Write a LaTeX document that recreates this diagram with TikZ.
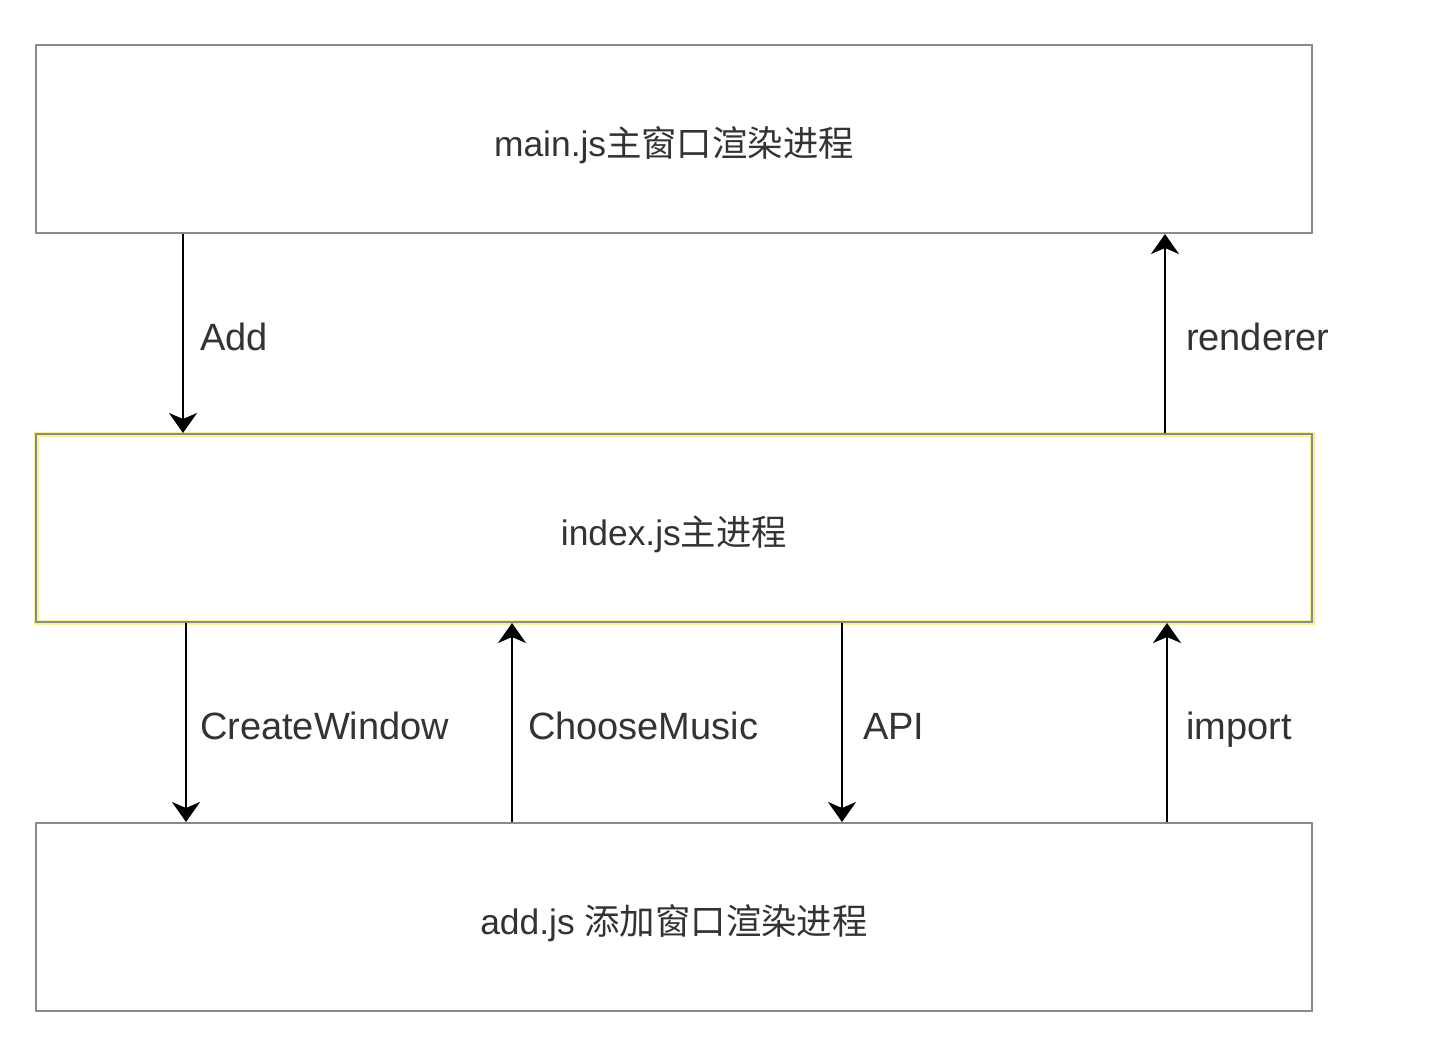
\documentclass[tikz,border=0pt]{standalone}
\usepackage{fontspec}
\setmainfont{Liberation Sans}
\newfontfamily\cjk{Noto Sans CJK SC}
\usetikzlibrary{positioning, arrows.meta}

\definecolor{boxline}{HTML}{8A8A8A}
\definecolor{txt}{HTML}{333333}
\definecolor{glow}{HTML}{F7F39A}

\begin{document}
\begin{tikzpicture}[x=0.5pt, y=-0.5pt, node distance=99.5pt, thick,
    proc/.style={draw=boxline, line width=1pt, rectangle, minimum width=638pt, minimum height=94pt,
      text=txt, font=\fontsize{17.7}{19}\selectfont, inner sep=0pt, text height=20pt, text depth=3pt},
    link/.style={-{Stealth[length=10pt, width=14pt, inset=3pt]}, line width=1pt},
    tag/.style={right, text=txt, font=\fontsize{19}{21}\selectfont, inner sep=0pt,
      text height=21pt, text depth=4pt}]
    \useasboundingbox (0,0) rectangle (1456,1060);

    \node[proc] (mainwin) at (674,139) {main.js{\cjk 主窗口渲染进程}};
    \node[proc, below=of mainwin, preaction={draw=glow, line width=2.5pt}] (indexjs) {index.js{\cjk 主进程}};
    \node[proc, below=of indexjs] (addwin) {add.js {\cjk 添加窗口渲染进程}};

    % x positions of the connectors
    \coordinate (xadd) at (183,0);
    \coordinate (xrend) at (1165,0);
    \coordinate (xcreate) at (186,0);
    \coordinate (xchoose) at (512,0);
    \coordinate (xapi) at (842,0);
    \coordinate (ximport) at (1167,0);

    \draw[link] (mainwin.south -| xadd) -- node[tag, xshift=8pt] {Add} (indexjs.north -| xadd);
    \draw[link] (indexjs.north -| xrend) -- node[tag, xshift=10pt] {renderer} (mainwin.south -| xrend);

    \draw[link] (indexjs.south -| xcreate) -- node[tag, xshift=6.5pt] {CreateWindow} (addwin.north -| xcreate);
    \draw[link] (addwin.north -| xchoose) -- node[tag, xshift=7.5pt] {ChooseMusic} (indexjs.south -| xchoose);
    \draw[link] (indexjs.south -| xapi) -- node[tag, xshift=10pt] {API} (addwin.north -| xapi);
    \draw[link] (addwin.north -| ximport) -- node[tag, xshift=9pt] {import} (indexjs.south -| ximport);
\end{tikzpicture}
\end{document}
